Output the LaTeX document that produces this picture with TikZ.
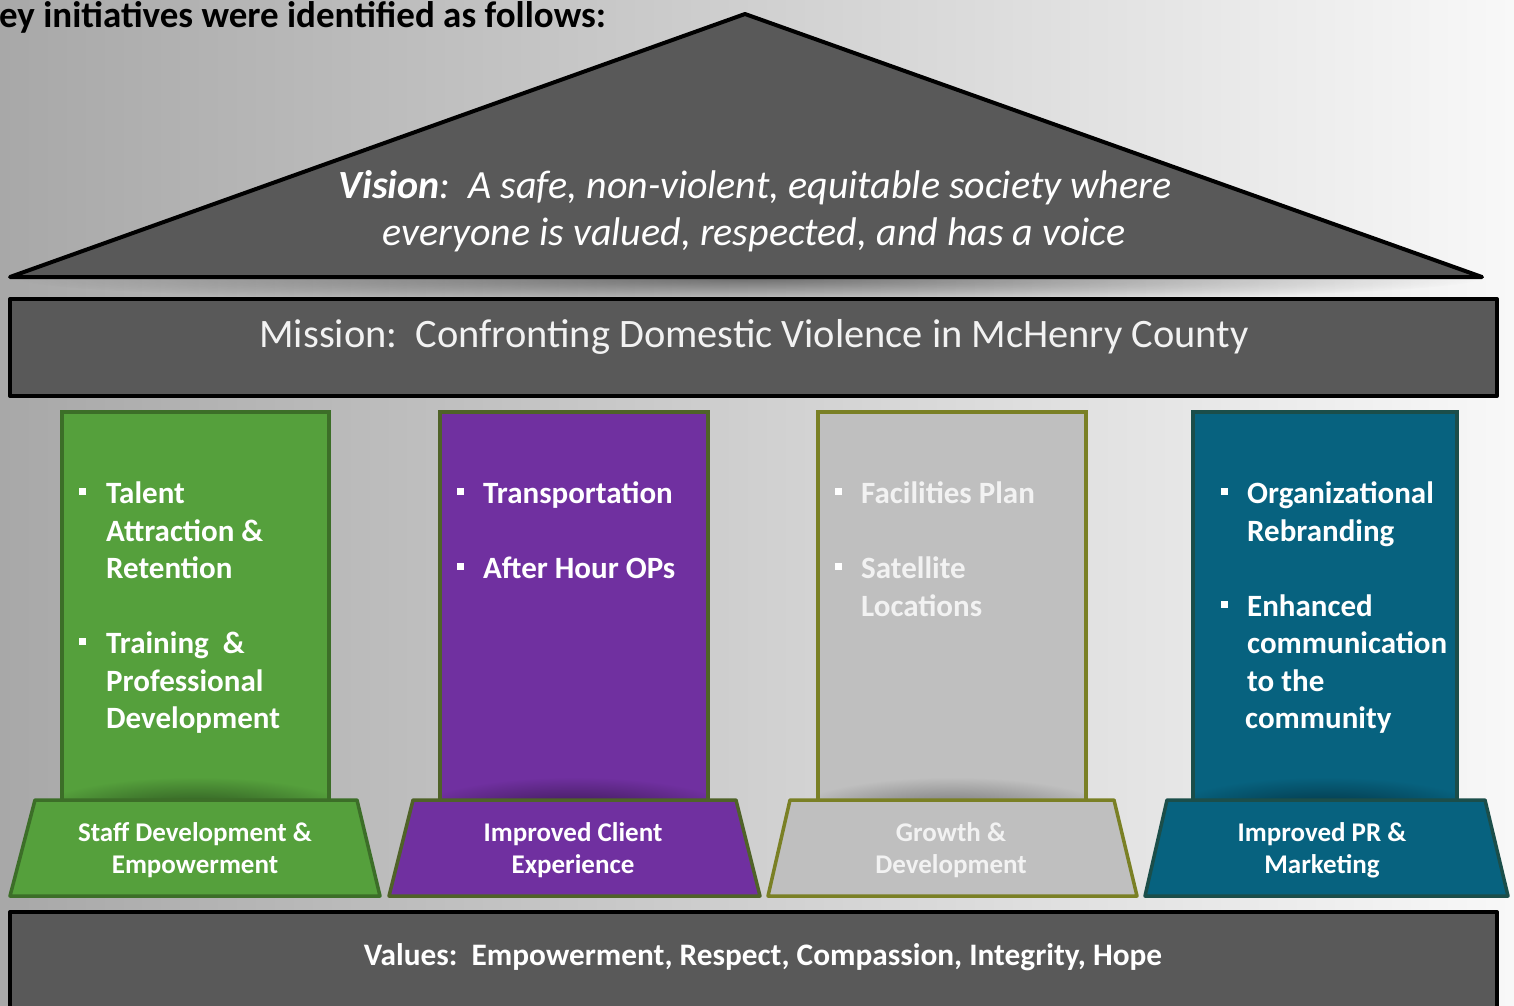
\documentclass[tikz,border=0pt]{standalone}
\usepackage{fontspec}
\setmainfont{Carlito}
\usetikzlibrary{fadings}
\tikzfading[name=myfade, inner color=transparent!0, outer color=transparent!100]
\definecolor{bgL}{HTML}{A8A8A8}
\definecolor{bgR}{HTML}{F8F8F8}
\definecolor{darkfill}{HTML}{595959}
\definecolor{gfill}{HTML}{55A03C}
\definecolor{gline}{HTML}{3C6E28}
\definecolor{pfill}{HTML}{7030A0}
\definecolor{pline}{HTML}{4F6228}
\definecolor{sfill}{HTML}{BFBFBF}
\definecolor{sline}{HTML}{7A8025}
\definecolor{bfill}{HTML}{07627F}
\definecolor{bline}{HTML}{1B4E4A}
\definecolor{softwhite}{HTML}{F2F2F2}
\begin{document}
\begin{tikzpicture}[x=1pt,y=-1pt,
  darkbox/.style={fill=darkfill, draw=black, line width=4pt, line join=round},
  pillartext/.style={anchor=base west, inner sep=0pt, text=white, font=\fontsize{31}{37}\selectfont\bfseries},
  basetext/.style={align=center, inner sep=0pt, text=white, font=\fontsize{27}{32}\selectfont\bfseries},
  bulletsq/.style={fill=white}]
\useasboundingbox (0,0) rectangle (1514,1005);
\clip (0,0) rectangle (1514,1005);
% background
\shade[left color=bgL, right color=bgR] (0,0) rectangle (1514,1005);
% top text
\node[anchor=base west, inner sep=0pt, font=\fontsize{37}{44}\selectfont\bfseries] (intro) at (-1,27) {ey initiatives were identified as follows:};
% roof shadow
\begin{scope}
  \clip (0,279) rectangle (1514,298);
  \fill[black, opacity=0.45, path fading=myfade] (750,279) ellipse (730 and 24);
\end{scope}
% roof
\draw[darkbox] (10,277) -- (745,14) -- (1482,277) -- cycle;
\node[inner sep=0pt, anchor=base, text=white, font=\fontsize{40}{48}\selectfont\itshape] (vision1) at (755,198) {\textbf{Vision}:\ \ A safe, non-violent, equitable society where};
\node[inner sep=0pt, anchor=base, text=white, font=\fontsize{40}{48}\selectfont\itshape] (vision2) at (754,245) {everyone is valued, respected, and has a voice};
% mission
\draw[darkbox] (10,299) rectangle (1497,396);
\node[inner sep=0pt, anchor=base, text=softwhite, font=\fontsize{40.4}{48}\selectfont] (mission) at (754,347) {Mission:\ \ Confronting Domestic Violence in McHenry County};
% values
\draw[darkbox] (10,912) rectangle (1497,1030);
\node[inner sep=0pt, anchor=base, text=white, font=\fontsize{31.3}{38}\selectfont\bfseries] (values) at (763,965) {Values:\ \ Empowerment, Respect, Compassion, Integrity, Hope};

% ---------- pillar 1 ----------
\fill[gfill] (62,412) rectangle (329,800);
\begin{scope}\clip (62,412) rectangle (329,800);
  \shade[inner color=black!55!gfill, outer color=gfill] (195,815) ellipse (165 and 38);
\end{scope}
\draw[gline, line width=3.5pt] (62,800) -- (62,412) -- (329,412) -- (329,800);
\draw[fill=gfill, draw=gline, line width=3.5pt, line join=round] (35,800) -- (357,800) -- (380,896) -- (10,896) -- cycle;
\node[basetext] (b1) at (195,850) {Staff Development \&\\Empowerment};
\fill[bulletsq] (79,488) rectangle (86,495);
\fill[bulletsq] (79,638) rectangle (86,645);
\node[pillartext] (p1a) at (106,503) {Talent};
\node[pillartext] (p1b) at (106,541) {Attraction \&};
\node[pillartext] (p1c) at (106,578) {Retention};
\node[pillartext] (p1d) at (106,653) {Training\ \ \&};
\node[pillartext] (p1e) at (106,691) {Professional};
\node[pillartext] (p1f) at (106,728) {Development};

% ---------- pillar 2 ----------
\fill[pfill] (440,412) rectangle (708,800);
\begin{scope}\clip (440,412) rectangle (708,800);
  \shade[inner color=black!55!pfill, outer color=pfill] (574,815) ellipse (165 and 38);
\end{scope}
\draw[pline, line width=3.5pt] (440,800) -- (440,412) -- (708,412) -- (708,800);
\draw[fill=pfill, draw=pline, line width=3.5pt, line join=round] (413,800) -- (736,800) -- (760,896) -- (389,896) -- cycle;
\node[basetext] (b2) at (573,850) {Improved Client\\Experience};
\fill[bulletsq] (457,488) rectangle (464,495);
\fill[bulletsq] (457,563) rectangle (464,570);
\node[pillartext] (p2a) at (483,503) {Transportation};
\node[pillartext] (p2b) at (483,578) {After Hour OPs};

% ---------- pillar 3 ----------
\fill[sfill] (818,412) rectangle (1086,800);
\begin{scope}\clip (818,412) rectangle (1086,800);
  \shade[inner color=black!45!sfill, outer color=sfill] (952,815) ellipse (165 and 38);
\end{scope}
\draw[sline, line width=3.5pt] (818,800) -- (818,412) -- (1086,412) -- (1086,800);
\draw[fill=sfill, draw=sline, line width=3.5pt, line join=round] (790,800) -- (1114,800) -- (1137,896) -- (768,896) -- cycle;
\node[basetext, text=softwhite] (b3) at (951,850) {Growth \&\\Development};
\fill[bulletsq] (835,488) rectangle (842,495);
\fill[bulletsq] (835,563) rectangle (842,570);
\node[pillartext, text=softwhite] (p3a) at (861,503) {Facilities Plan};
\node[pillartext, text=softwhite] (p3b) at (861,578) {Satellite};
\node[pillartext, text=softwhite] (p3c) at (861,616) {Locations};

% ---------- pillar 4 ----------
\fill[bfill] (1193,412) rectangle (1457,800);
\begin{scope}\clip (1193,412) rectangle (1457,800);
  \shade[inner color=black!55!bfill, outer color=bfill] (1325,815) ellipse (165 and 38);
\end{scope}
\draw[bline, line width=3.5pt] (1193,800) -- (1193,412) -- (1457,412) -- (1457,800);
\draw[fill=bfill, draw=bline, line width=3.5pt, line join=round] (1167,800) -- (1485,800) -- (1508,896) -- (1145,896) -- cycle;
\node[basetext] (b4) at (1322,850) {Improved PR \&\\Marketing};
\fill[bulletsq] (1221,488) rectangle (1228,495);
\fill[bulletsq] (1221,601) rectangle (1228,608);
\node[pillartext] (p4a) at (1247,503) {Organizational};
\node[pillartext] (p4b) at (1247,541) {Rebranding};
\node[pillartext] (p4c) at (1247,616) {Enhanced};
\node[pillartext] (p4d) at (1247,653) {communication};
\node[pillartext] (p4e) at (1247,691) {to the};
\node[pillartext] (p4f) at (1245,728) {community};
\end{tikzpicture}
\end{document}
